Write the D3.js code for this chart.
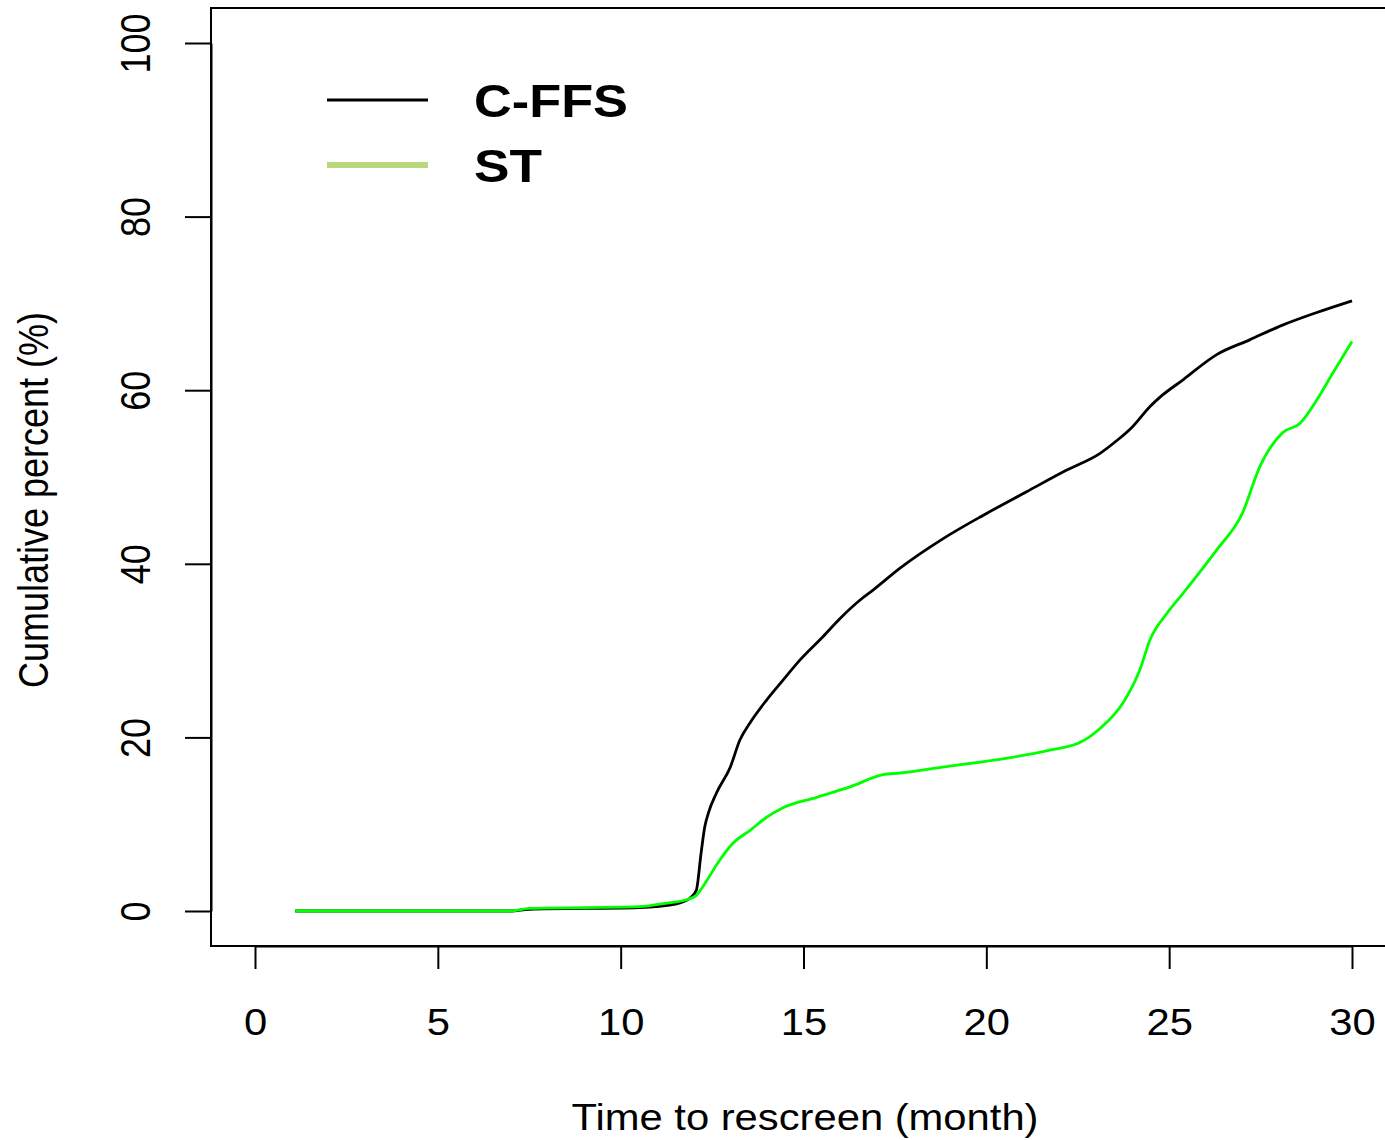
<!DOCTYPE html>
<html><head><meta charset="utf-8">
<script src="https://cdn.jsdelivr.net/npm/d3@7"></script>
<style>body{margin:0;background:#fff}svg{display:block}</style>
</head><body>
<script>
const cffsMonths = [1.1, 7.0, 7.5, 10.5, 11.5, 11.9, 12.07, 12.2, 12.3, 12.4, 12.62, 13.0, 13.26, 13.54, 13.99, 14.44, 14.9, 15.53, 16.0, 16.54, 16.91, 17.64, 18.82, 19.92, 21.1, 22.2, 23.1, 23.57, 24.0, 24.47, 24.75, 25.38, 26.3, 27.2, 28.1, 29.0, 30.0];
const cffsPct = [0, 0, 0.2, 0.4, 0.8, 1.5, 2.4, 6.7, 9.7, 11.3, 13.6, 16.6, 19.7, 21.7, 24.3, 26.6, 28.9, 31.6, 33.7, 35.8, 37.0, 39.5, 42.9, 45.6, 48.3, 50.8, 52.7, 54.2, 55.8, 58.1, 59.2, 61.2, 64.1, 65.8, 67.5, 68.9, 70.3];
const stMonths = [1.1, 7.0, 7.5, 10.5, 11.26, 11.8, 12.07, 12.2, 12.4, 12.62, 13.07, 13.54, 13.99, 14.44, 15.36, 16.27, 17.17, 17.64, 19.0, 20.4, 21.7, 22.6, 23.1, 23.74, 24.2, 24.47, 24.94, 25.38, 26.3, 27.0, 27.48, 28.1, 28.58, 29.04, 29.48, 30.0];
const stPct = [0, 0, 0.3, 0.5, 0.9, 1.3, 1.8, 2.5, 3.8, 5.3, 7.8, 9.3, 10.8, 11.9, 13.1, 14.3, 15.7, 15.9, 16.7, 17.5, 18.5, 19.5, 21.0, 24.0, 27.8, 31.2, 34.3, 36.6, 41.6, 45.8, 51.2, 55.1, 56.2, 58.9, 62.0, 65.6];
const xTicks = [0, 5, 10, 15, 20, 25, 30];
const yTicks = [0, 20, 40, 60, 80, 100];
const seriesNames = ["C-FFS", "ST"];

const W = 1385, H = 1140;
const SX = 1.16; // horizontal stretch of the original text rendering
const svg = d3.select("body").append("svg").attr("width", W).attr("height", H);
const x = d3.scaleLinear().domain([0, 30]).range([255, 1352]);
const y = d3.scaleLinear().domain([0, 100]).range([911, 43]);
const font = "'Liberation Sans', Arial, sans-serif";

// box
svg.append("rect").attr("x", 211).attr("y", 8).attr("width", 1396 - 211).attr("height", 946 - 8)
  .attr("fill", "none").attr("stroke", "#000").attr("stroke-width", 2);

// x axis
const xa = svg.append("g").attr("transform", "translate(0,946)")
  .call(d3.axisBottom(x).tickValues(xTicks).tickSize(23).tickSizeOuter(0));
xa.select(".domain").attr("stroke-width", 2);
xa.selectAll(".tick line").attr("stroke-width", 2);
xa.selectAll(".tick text").remove();
xa.selectAll(".tick").append("text")
  .attr("transform", `translate(0,89) scale(${SX},1)`)
  .attr("text-anchor", "middle").attr("font-family", font).attr("font-size", 36).attr("fill", "#000")
  .text(d => d);

// y axis
const ya = svg.append("g").attr("transform", "translate(211,0)")
  .call(d3.axisLeft(y).tickValues(yTicks).tickSize(26).tickSizeOuter(0));
ya.select(".domain").attr("stroke-width", 2);
ya.selectAll(".tick line").attr("stroke-width", 2);
ya.selectAll(".tick text").remove();
ya.selectAll(".tick").append("text")
  .attr("transform", `translate(-61,0) scale(${SX},1) rotate(-90)`)
  .attr("text-anchor", "middle").attr("font-family", font).attr("font-size", 36).attr("fill", "#000")
  .text(d => d);

// titles
svg.append("text").attr("transform", `translate(805,1130) scale(${SX},1)`).attr("text-anchor", "middle")
  .attr("font-family", font).attr("font-size", 36).text("Time to rescreen (month)");
svg.append("text").attr("transform", `translate(48,500) scale(${SX},1) rotate(-90)`).attr("text-anchor", "middle")
  .attr("font-family", font).attr("font-size", 36).text("Cumulative percent (%)");

// lines
const line = d3.line().x(d => x(d[0])).y(d => y(d[1])).curve(d3.curveMonotoneX);
svg.append("path").datum(d3.zip(cffsMonths, cffsPct)).attr("d", line)
  .attr("fill", "none").attr("stroke", "#000").attr("stroke-width", 2.8);
svg.append("path").datum(d3.zip(stMonths, stPct)).attr("d", line)
  .attr("fill", "none").attr("stroke", "#00ff00").attr("stroke-width", 2.8);

// legend
const leg = [{name: seriesNames[0], color: "#000", w: 3, yy: 100},
             {name: seriesNames[1], color: "#b8d87a", w: 6, yy: 165}];
leg.forEach(l => {
  svg.append("line").attr("x1", 327).attr("x2", 428).attr("y1", l.yy).attr("y2", l.yy)
    .attr("stroke", l.color).attr("stroke-width", l.w);
  svg.append("text").attr("x", 474).attr("y", l.yy + 17).attr("font-family", font)
    .attr("font-weight", "bold").attr("font-size", 47).attr("fill", "#000")
    .attr("textLength", l.name === "C-FFS" ? 154 : 68).attr("lengthAdjust", "spacingAndGlyphs")
    .text(l.name);
});
</script>
</body></html>
